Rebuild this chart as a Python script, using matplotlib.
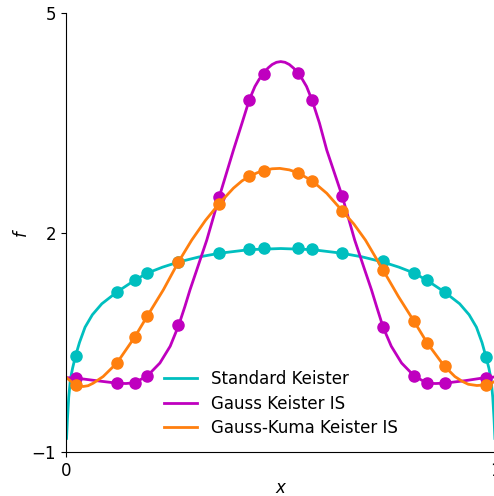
import numpy as np
import matplotlib
matplotlib.use("Agg")
import matplotlib.pyplot as plt

# sample points (markers), shared by all three series
x_pts = [0.023, 0.119, 0.160, 0.190, 0.262, 0.357, 0.427, 0.460,
         0.540, 0.573, 0.643, 0.738, 0.810, 0.840, 0.881, 0.977]
std_pts = [0.32, 1.19, 1.35, 1.45, 1.60, 1.72, 1.78, 1.79,
           1.79, 1.78, 1.72, 1.61, 1.45, 1.35, 1.19, 0.30]
gauss_pts = [0.015, -0.055, -0.055, 0.045, 0.74, 2.49, 3.82, 4.17,
             4.18, 3.81, 2.50, 0.71, 0.045, -0.055, -0.055, 0.022]
kuma_pts = [-0.08, 0.22, 0.57, 0.865, 1.60, 2.40, 2.77, 2.85,
            2.82, 2.71, 2.30, 1.49, 0.79, 0.49, 0.18, -0.075]

# curves
std_x = [0.002, 0.004, 0.007, 0.011, 0.016, 0.023, 0.032, 0.045, 0.062, 0.084,
         0.119, 0.160, 0.190, 0.225, 0.262, 0.310, 0.357, 0.427, 0.500,
         0.573, 0.643, 0.690, 0.738, 0.775, 0.810, 0.840, 0.881, 0.916, 0.938,
         0.955, 0.968, 0.977, 0.984, 0.989, 0.993, 0.996, 0.998]
std_y = [-0.81, -0.55, -0.25, 0.0, 0.15, 0.32, 0.50, 0.71, 0.88, 1.03,
         1.19, 1.35, 1.45, 1.53, 1.60, 1.67, 1.72, 1.77, 1.785,
         1.77, 1.72, 1.67, 1.60, 1.53, 1.45, 1.35, 1.19, 1.03, 0.88,
         0.71, 0.50, 0.31, 0.15, 0.0, -0.25, -0.55, -0.81]

gauss_x = [0.0, 0.023, 0.07, 0.119, 0.140, 0.160, 0.190, 0.219, 0.243, 0.263,
           0.277, 0.289, 0.304, 0.328, 0.357, 0.390, 0.410, 0.427, 0.440, 0.450,
           0.460, 0.470, 0.480, 0.490, 0.500, 0.510, 0.520, 0.530, 0.540, 0.550,
           0.560, 0.573, 0.590, 0.607, 0.643, 0.672, 0.696, 0.711, 0.723, 0.738,
           0.757, 0.781, 0.810, 0.840, 0.860, 0.881, 0.930, 0.977, 1.0]
gauss_y = [0.02, 0.015, -0.02, -0.055, -0.06, -0.05, 0.045, 0.22, 0.45, 0.74,
           0.99, 1.22, 1.48, 1.90, 2.49, 3.13, 3.50, 3.82, 4.00, 4.10,
           4.17, 4.25, 4.30, 4.33, 4.34, 4.33, 4.30, 4.25, 4.18, 4.10,
           4.00, 3.81, 3.50, 3.13, 2.50, 1.90, 1.48, 1.22, 0.99, 0.71,
           0.45, 0.22, 0.045, -0.055, -0.06, -0.055, -0.02, 0.022, 0.03]

kuma_x = [0.0, 0.012, 0.023, 0.032, 0.041, 0.052, 0.064, 0.087, 0.119, 0.160,
          0.190, 0.227, 0.262, 0.293, 0.325, 0.357, 0.390, 0.410, 0.427, 0.445,
          0.460, 0.480, 0.498, 0.520, 0.540, 0.573, 0.607, 0.643, 0.670, 0.697,
          0.739, 0.7735, 0.810, 0.841, 0.880, 0.905, 0.922, 0.936, 0.956, 0.977,
          0.988, 0.998]
kuma_y = [0.03, -0.03, -0.08, -0.095, -0.10, -0.09, -0.055, 0.035, 0.22, 0.57,
          0.865, 1.22, 1.60, 1.90, 2.17, 2.40, 2.61, 2.71, 2.77, 2.82,
          2.85, 2.875, 2.88, 2.86, 2.82, 2.71, 2.54, 2.30, 2.12, 1.90,
          1.48, 1.13, 0.79, 0.49, 0.18, 0.035, -0.03, -0.07, -0.087, -0.078,
          -0.06, -0.03]

plt.rcParams['font.size'] = 12

fig = plt.figure(figsize=(4.94, 4.96), dpi=100)
ax = fig.add_axes([0.133, 0.0881, 0.8706, 0.8851])

ax.plot(std_x, std_y, color='c', lw=2, label='Standard Keister')
ax.plot(x_pts, std_pts, 'o', color='c', ms=8)
ax.plot(gauss_x, gauss_y, color='m', lw=2, label='Gauss Keister IS')
ax.plot(x_pts, gauss_pts, 'o', color='m', ms=8)
ax.plot(kuma_x, kuma_y, color='tab:orange', lw=2, label='Gauss-Kuma Keister IS')
ax.plot(x_pts, kuma_pts, 'o', color='tab:orange', ms=8)

ax.set_xlim(0, 1)
ax.set_ylim(-1, 5)
ax.set_xticks([0, 1])
ax.set_yticks([-1, 2, 5])
ax.set_xlabel('$x$', labelpad=-1)
ax.set_ylabel('$f$', labelpad=0.5)
ax.spines['top'].set_visible(False)
ax.spines['right'].set_visible(False)
ax.legend(loc='lower center', frameon=False, labelspacing=0.4)

fig.savefig('out.png', dpi=100)
